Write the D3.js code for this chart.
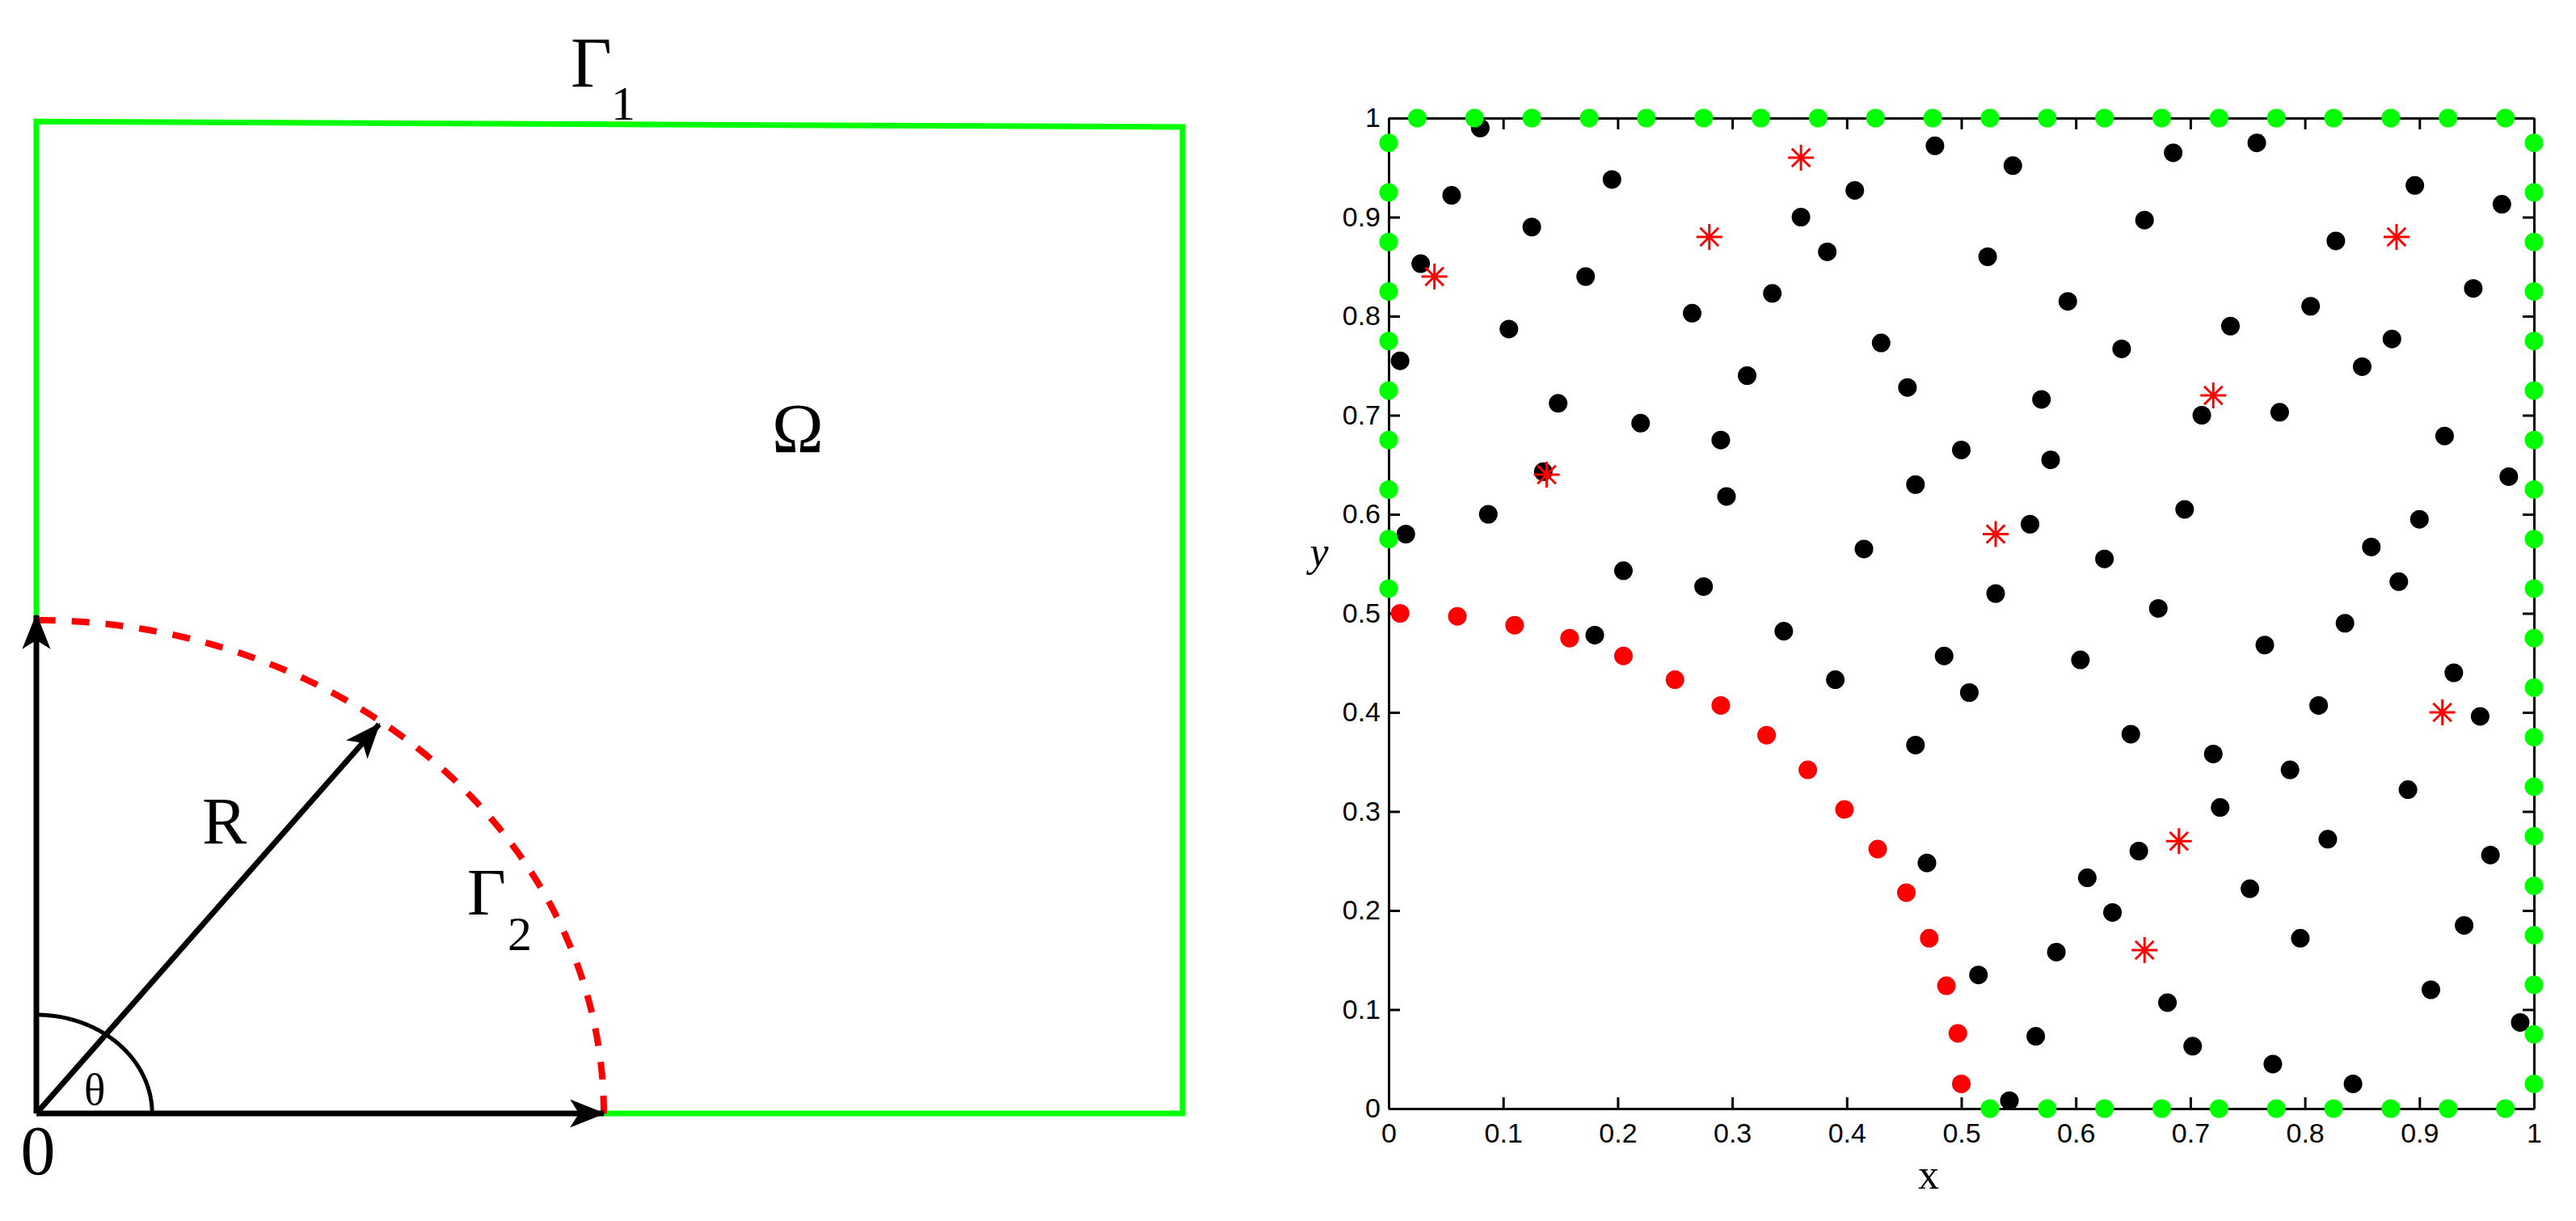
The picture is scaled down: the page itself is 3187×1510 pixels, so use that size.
<!DOCTYPE html>
<html><head><meta charset="utf-8">
<script src="https://cdn.jsdelivr.net/npm/d3@7"></script>
<style>body{margin:0;background:#fff}</style></head>
<body><svg id="c" width="3187" height="1510"></svg>
<script>
// ---- right panel data ----
const blackX=[0.08,0.055,0.028,0.01,0.015,0.125,0.105,0.195,0.172,0.148,0.135,0.087,0.22,0.205,0.18,0.265,0.29,0.295,0.275,0.313,0.335,0.36,0.383,0.407,0.345,0.39,0.415,0.43,0.453,0.46,0.477,0.545,0.523,0.5,0.56,0.53,0.485,0.507,0.46,0.47,0.515,0.542,0.565,0.583,0.604,0.61,0.632,0.625,0.648,0.655,0.57,0.578,0.593,0.64,0.66,0.685,0.695,0.672,0.72,0.726,0.68,0.702,0.71,0.735,0.758,0.765,0.752,0.772,0.778,0.787,0.796,0.805,0.812,0.82,0.827,0.835,0.842,0.85,0.858,0.876,0.882,0.89,0.9,0.896,0.91,0.922,0.93,0.939,0.947,0.953,0.962,0.972,0.978,0.988];
const blackY=[0.99,0.922,0.853,0.755,0.58,0.89,0.787,0.938,0.84,0.712,0.643,0.60,0.692,0.543,0.478,0.803,0.675,0.618,0.527,0.74,0.823,0.90,0.865,0.927,0.482,0.433,0.565,0.773,0.728,0.63,0.972,0.952,0.86,0.665,0.59,0.52,0.457,0.42,0.367,0.248,0.135,0.008,0.073,0.158,0.453,0.233,0.198,0.555,0.378,0.26,0.716,0.655,0.815,0.767,0.897,0.965,0.605,0.505,0.358,0.304,0.107,0.063,0.70,0.79,0.975,0.468,0.222,0.045,0.703,0.342,0.172,0.81,0.407,0.272,0.876,0.49,0.025,0.749,0.567,0.777,0.532,0.322,0.595,0.932,0.12,0.679,0.44,0.185,0.828,0.396,0.256,0.913,0.638,0.087];
const starX=[0.04,0.138,0.28,0.36,0.53,0.72,0.88,0.69,0.66,0.92];
const starY=[0.84,0.64,0.88,0.96,0.58,0.72,0.88,0.27,0.16,0.40];
const arcX=[0.01,0.06,0.11,0.158,0.205,0.25,0.29,0.33,0.366,0.398,0.427,0.452,0.472,0.487,0.497,0.5];
const arcY=[0.5,0.497,0.488,0.475,0.457,0.433,0.407,0.377,0.342,0.302,0.262,0.218,0.172,0.124,0.076,0.025];
const topX=[0.025,0.075,0.125,0.175,0.225,0.275,0.325,0.375,0.425,0.475,0.525,0.575,0.625,0.675,0.725,0.775,0.825,0.875,0.925,0.975];
const bottomX=[0.525,0.575,0.625,0.675,0.725,0.775,0.825,0.875,0.925,0.975];
const leftY=[0.525,0.575,0.625,0.675,0.725,0.775,0.825,0.875,0.925,0.975];
const rightY=[0.025,0.075,0.125,0.175,0.225,0.275,0.325,0.375,0.425,0.475,0.525,0.575,0.625,0.675,0.725,0.775,0.825,0.875,0.925,0.975];
const tickVals=[0,0.1,0.2,0.3,0.4,0.5,0.6,0.7,0.8,0.9,1];
const tickLabels=["0","0.1","0.2","0.3","0.4","0.5","0.6","0.7","0.8","0.9","1"];
// ---- left diagram (units of R) ----
const gamma1Path=[[0,1],[0,2.011],[2.02,2.0],[2.02,0],[1,0]];

const svg=d3.select("#c");
const GREEN="#00ff00", RED="#ff0000";

// ===== right panel =====
const x=d3.scaleLinear([0,1],[1718,3135]);
const y=d3.scaleLinear([0,1],[1371,146]);
const g=svg.append("g");
const tickFmt=(d,i)=>tickLabels[i];
const ax=g.append("g").attr("transform",`translate(0,${y(0)})`).call(d3.axisBottom(x).tickValues(tickVals).tickFormat(tickFmt).tickSizeInner(-14).tickSizeOuter(0).tickPadding(18));
const ay=g.append("g").attr("transform",`translate(${x(0)},0)`).call(d3.axisLeft(y).tickValues(tickVals).tickFormat(tickFmt).tickSizeInner(-14).tickSizeOuter(0).tickPadding(10));
const axT=g.append("g").attr("transform",`translate(0,${y(1)})`).call(d3.axisTop(x).tickValues(tickVals).tickFormat("").tickSizeInner(-14).tickSizeOuter(0));
const ayR=g.append("g").attr("transform",`translate(${x(1)},0)`).call(d3.axisRight(y).tickValues(tickVals).tickFormat("").tickSizeInner(-14).tickSizeOuter(0));
[ax,ay,axT,ayR].forEach(a=>{a.selectAll("path,line").attr("stroke","#000").attr("stroke-width",3);
 a.selectAll("text").attr("font-family","Liberation Sans, Arial").attr("font-size",34).attr("fill","#000");});
g.append("text").attr("x",2386).attr("y",1470).attr("text-anchor","middle").attr("font-family","Liberation Serif").attr("font-size",52).text("x");
g.append("text").attr("x",1632).attr("y",700).attr("text-anchor","middle").attr("font-family","Liberation Serif").attr("font-style","italic").attr("font-size",52).text("y");

const R=11.5;
g.selectAll(".bk").data(blackX).join("circle").attr("cx",d=>x(d)).attr("cy",(d,i)=>y(blackY[i])).attr("r",R).attr("fill","#000");
g.selectAll(".ar").data(arcX).join("circle").attr("cx",d=>x(d)).attr("cy",(d,i)=>y(arcY[i])).attr("r",R).attr("fill",RED);
const greens=[...topX.map(v=>[v,1]),...bottomX.map(v=>[v,0]),...leftY.map(v=>[0,v]),...rightY.map(v=>[1,v])];
g.selectAll(".gr").data(greens).join("circle").attr("cx",d=>x(d[0])).attr("cy",d=>y(d[1])).attr("r",R).attr("fill",GREEN);
const st=g.selectAll(".st").data(starX).join("g").attr("transform",(d,i)=>`translate(${x(d)},${y(starY[i])})`);
[0,45,90,135].forEach(a=>st.append("line").attr("x1",0).attr("y1",-16).attr("x2",0).attr("y2",16).attr("transform",`rotate(${a})`).attr("stroke",RED).attr("stroke-width",3));

// ===== left diagram =====
const dx=d3.scaleLinear([0,1],[45,747]);
const dy=d3.scaleLinear([0,1],[1377,767]);
const L=svg.append("g");
L.append("path").attr("d",d3.line().x(d=>dx(d[0])).y(d=>dy(d[1]))(gamma1Path)).attr("fill","none").attr("stroke",GREEN).attr("stroke-width",7);
const arcPts=d3.range(0,91,1).map(a=>[Math.cos(a*Math.PI/180),Math.sin(a*Math.PI/180)]);
L.append("path").attr("d",d3.line().x(d=>dx(d[0])).y(d=>dy(d[1]))(arcPts)).attr("fill","none").attr("stroke",RED).attr("stroke-width",8).attr("stroke-dasharray","22,20");
const thPts=d3.range(0,91,1).map(a=>[0.204*Math.cos(a*Math.PI/180),0.2*Math.sin(a*Math.PI/180)]);
L.append("path").attr("d",d3.line().x(d=>dx(d[0])).y(d=>dy(d[1]))(thPts)).attr("fill","none").attr("stroke","#000").attr("stroke-width",5);
svg.append("defs").append("marker").attr("id","ah").attr("viewBox","0 0 20 20").attr("refX",19).attr("refY",10).attr("markerUnits","userSpaceOnUse").attr("orient","auto")
 .attr("markerWidth",44).attr("markerHeight",44)
 .append("path").attr("d","M0,2 L20,10 L0,18 L5,10 Z").attr("fill","#000");
const arrows=[[[0,0],[1,0]],[[0,0],[0,1.01]],[[0,0],[0.604,0.789]]];
arrows.forEach(a=>L.append("line").attr("x1",dx(a[0][0])).attr("y1",dy(a[0][1])).attr("x2",dx(a[1][0])).attr("y2",dy(a[1][1])).attr("stroke","#000").attr("stroke-width",7).attr("marker-end","url(#ah)"));
const serif="Liberation Serif, Times New Roman";
const lab=(t,px,py,fs,anchor)=>L.append("text").attr("x",px).attr("y",py).attr("font-family",serif).attr("font-size",fs).attr("text-anchor",anchor||"start").text(t);
lab("Γ",706,107,88);lab("1",756,148,60);
lab("Ω",955,559,86);
lab("R",250,1043,83);
lab("Γ",578,1131,83);lab("2",628,1175,60);
lab("θ",104,1366,55);
lab("0",47,1452,86,"middle");
</script></body></html>
